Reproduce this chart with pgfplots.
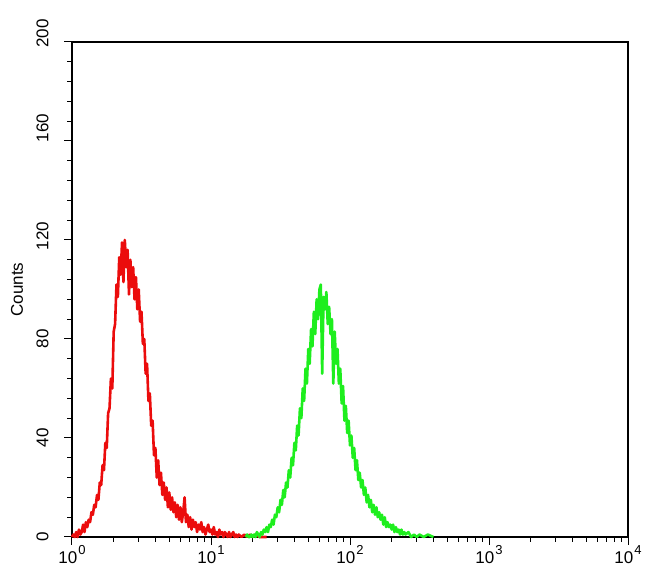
\documentclass[border=0pt]{standalone}
\usepackage{fontspec}
\setmainfont{Liberation Sans}
\usepackage{pgfplots}
\pgfplotsset{compat=1.18}
\usepackage{pgfplotstable}
\definecolor{redc}{RGB}{235,12,12}
\definecolor{greenc}{RGB}{30,238,30}

\pgfplotstableread{
lx y
0.00 0
0.01 1
0.02 0
0.03 2
0.04 0
0.05 3
0.06 1
0.07 2
0.08 5
0.09 2
0.10 6
0.11 4
0.12 7
0.13 6
0.14 10
0.15 9
0.16 13
0.17 12
0.18 17
0.19 15
0.20 22
0.21 21
0.22 29
0.23 27
0.24 38
0.25 36
0.26 50
0.27 52
0.28 64
0.29 60
0.30 83
0.31 86
0.32 102
0.33 97
0.34 113
0.35 106
0.36 119
0.37 103
0.38 120
0.39 109
0.40 116
0.41 98
0.42 112
0.43 101
0.44 109
0.45 96
0.46 105
0.47 92
0.48 100
0.49 87
0.50 91
0.51 78
0.52 80
0.53 66
0.54 70
0.55 55
0.56 58
0.57 45
0.58 47
0.59 33
0.60 36
0.61 24
0.62 31
0.63 21
0.64 26
0.65 17
0.66 22
0.67 15
0.68 20
0.69 12
0.70 18
0.71 11
0.72 16
0.73 10
0.74 14
0.75 8
0.76 13
0.77 7
0.78 12
0.79 6
0.80 10
0.81 16
0.82 6
0.83 9
0.84 4
0.85 8
0.86 3
0.87 7
0.88 4
0.89 6
0.90 2
0.91 5
0.92 3
0.93 6
0.94 2
0.95 4
0.96 1
0.97 3
0.98 5
0.99 2
1.00 3
1.01 1
1.02 4
1.03 1
1.04 2
1.05 0
1.06 3
1.07 1
1.08 2
1.09 0
1.10 2
1.11 1
1.12 0
1.13 2
1.14 0
1.15 1
1.16 2
1.17 0
1.18 1
1.19 0
1.20 1
1.22 0
1.24 1
1.26 0
1.28 1
1.30 0
1.32 1
1.35 0
1.40 0
}\redtab

\pgfplotstableread{
lx y
1.25 0
1.26 1
1.27 0
1.28 0
1.29 1
1.30 0
1.31 1
1.32 0
1.33 2
1.34 1
1.35 0
1.36 2
1.37 1
1.38 3
1.39 2
1.40 4
1.41 2
1.42 5
1.43 4
1.44 7
1.45 5
1.46 9
1.47 8
1.48 12
1.49 10
1.50 15
1.51 13
1.52 19
1.53 16
1.54 22
1.55 20
1.56 27
1.57 24
1.58 32
1.59 29
1.60 38
1.61 35
1.62 45
1.63 41
1.64 52
1.65 48
1.66 60
1.67 55
1.68 68
1.69 62
1.70 76
1.71 70
1.72 84
1.73 77
1.74 91
1.75 82
1.76 96
1.77 88
1.78 100
1.79 102
1.80 66
1.81 97
1.82 92
1.83 99
1.84 86
1.85 93
1.86 82
1.87 88
1.88 62
1.89 83
1.90 70
1.91 76
1.92 62
1.93 68
1.94 54
1.95 61
1.96 47
1.97 53
1.98 42
1.99 47
2.00 37
2.01 41
2.02 32
2.03 36
2.04 27
2.05 31
2.06 23
2.07 26
2.08 20
2.09 23
2.10 17
2.11 20
2.12 14
2.13 17
2.14 12
2.15 15
2.16 10
2.17 13
2.18 9
2.19 12
2.20 8
2.21 10
2.22 7
2.23 9
2.24 5
2.25 8
2.26 4
2.27 6
2.28 4
2.29 5
2.30 3
2.31 5
2.32 2
2.33 4
2.34 2
2.35 3
2.36 1
2.37 3
2.38 1
2.39 2
2.40 1
2.42 2
2.44 0
2.46 1
2.48 0
2.50 1
2.53 0
2.56 1
2.60 0
}\greentab

\newcommand{\tl}[1]{10\kern1pt\raisebox{9pt}{\fontsize{13}{13}\selectfont #1}}

\begin{document}
\begin{tikzpicture}
\path[use as bounding box] (-72pt,-48pt) rectangle (578pt,537pt);
\begin{axis}[
  at={(0pt,0pt)}, anchor=south west,
  scale only axis, width=556pt, height=495pt,
  xmode=log, xmin=1, xmax=10000,
  ymin=0, ymax=200,
  axis line style={line width=1.2pt, black},
  tick style={black, line width=1pt},
  tick align=outside,
  xtick pos=left, ytick pos=left,
  major tick length=8pt, minor tick length=5pt,
  xtick={1,10,100,1000,10000},
  xticklabels={\tl{0},\tl{1},\tl{2},\tl{3},\tl{4}},
  ytick={0,40,80,120,160,200},
  yticklabels={0,40,80,\hspace*{8pt}120,\hspace*{26pt}160,\hspace*{17pt}200},
  minor y tick num=4,
  /pgf/number format/assume math mode=true,
  ticklabel style={font=\fontsize{17}{17}\selectfont},
  yticklabel style={xshift=-12pt, rotate=90, anchor=south},
  xticklabel style={anchor=north, yshift=3pt},
  ylabel={Counts},
  ylabel style={font=\fontsize{17}{17}\selectfont, at={(axis description cs:-0.099,0.5)}, anchor=center},
  clip=false,
]
\addplot[redc, line width=2.6pt, line join=round] table[x expr=10^\thisrow{lx}, y=y] {\redtab};
\addplot[greenc, line width=2.6pt, line join=round] table[x expr=10^\thisrow{lx}, y=y] {\greentab};
\end{axis}
\end{tikzpicture}
\end{document}
